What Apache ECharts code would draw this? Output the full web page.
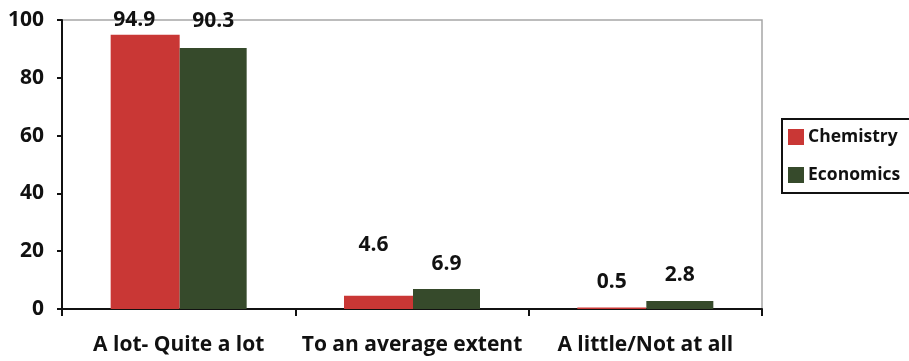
<!DOCTYPE html>
<html><head><meta charset="utf-8">
<script src="https://cdn.jsdelivr.net/npm/echarts@6/dist/echarts.min.js"></script>
<style>html,body{margin:0;padding:0;background:#fff}#c{width:909px;height:361px}</style>
</head><body><div id="c"></div>
<script>
const categories = ['A lot- Quite a lot', 'To an average extent', 'A little/Not at all'];
const chemistry = [94.9, 4.6, 0.5];
const economics = [90.3, 6.9, 2.8];
const yTicks = { min: 0, max: 100, interval: 20 };

// label nudges (style only)
const chemOffsets = [[-11, 0], [-5, -36], [0, -11]];
const econOffsets = [[0, -13], [0, -11], [0, -11]];

const FONT = '"Open Sans", "Noto Sans", sans-serif';
const chart = echarts.init(document.getElementById('c'), null, { renderer: 'canvas' });
const mk = (vals, offs) => vals.map((v, i) => ({ value: v, label: { offset: offs[i] } }));
const labelStyle = { show: true, position: 'top', distance: 4, color: '#111', fontFamily: FONT, fontWeight: 'bold', fontSize: 21 };

chart.setOption({
  animation: false,
  grid: { left: 62, right: 147, top: 20, bottom: 52, show: true, borderColor: '#a6a6a6', borderWidth: 1.5 },
  legend: {
    orient: 'vertical', left: 782, top: 119, itemWidth: 16, itemHeight: 16, itemGap: 20,
    padding: [9, 40, 9, 6], borderColor: '#111', borderWidth: 2,
    textStyle: { fontFamily: FONT, fontWeight: 'bold', fontSize: 17.5, lineHeight: 16, color: '#111', padding: [0, 0, 0, -1] },
    data: ['Chemistry', 'Economics'], icon: 'rect'
  },
  xAxis: {
    type: 'category', data: categories,
    axisLine: { lineStyle: { color: '#111', width: 2 } },
    axisTick: { show: true, length: 7, lineStyle: { color: '#111', width: 2 }, alignWithLabel: false },
    axisLabel: { interval: 0, color: '#111', fontFamily: FONT, fontWeight: 'bold', fontSize: 21, margin: 26 }
  },
  yAxis: {
    type: 'value', min: yTicks.min, max: yTicks.max, interval: yTicks.interval,
    axisLine: { show: true, lineStyle: { color: '#111', width: 2 } },
    axisTick: { show: true, length: 5, lineStyle: { color: '#111', width: 2 } },
    splitLine: { show: false },
    axisLabel: { color: '#111', fontFamily: FONT, fontWeight: 'bold', fontSize: 21, margin: 18 }
  },
  series: [
    { name: 'Chemistry', type: 'bar', data: mk(chemistry, chemOffsets), barWidth: 69, barGap: '0%',
      itemStyle: { color: '#C93735' }, label: labelStyle },
    { name: 'Economics', type: 'bar', data: mk(economics, econOffsets), barWidth: 67,
      itemStyle: { color: '#364A2B' }, label: labelStyle }
  ]
});
</script></body></html>
